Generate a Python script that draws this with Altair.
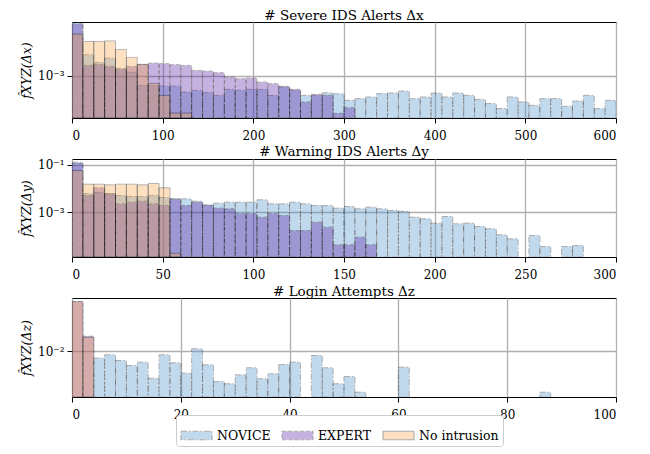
import altair as alt
import pandas as pd

SERIES = ["NOVICE", "EXPERT", "No intrusion"]
FILL = ["#418aca", "#5212a2", "#f8a23e"]
DASH = [[6, 2, 1.5, 2], [4, 2], [1, 0]]

# ---- Panel 1: severe IDS alerts (bin width 12) ----
SEV_BIN = 12
SEV_NOVICE = [6.12e-2, 5.01e-3, 2.77e-3, 3.86e-3, 1.75e-3, 1.29e-3, 4.75e-4, 4.75e-4, 4.50e-4, 4.50e-4,
              2.84e-4, 3.24e-4, 2.71e-4, 2.20e-4, 3.49e-4, 3.24e-4, 3.49e-4, 3.49e-4, 2.20e-4, 4.17e-4,
              3.24e-4, 2.20e-4, 2.20e-4, 2.67e-4, 2.47e-4, 1.50e-4, 1.71e-4, 1.94e-4, 2.51e-4, 2.63e-4,
              3.07e-4, 1.71e-4, 1.94e-4, 2.63e-4, 1.94e-4, 2.63e-4, 2.20e-4, 1.62e-4, 1.17e-4, 7.94e-5,
              1.94e-4, 1.32e-4, 1.02e-4, 1.71e-4, 1.71e-4, 9.48e-5, 1.42e-4, 2.20e-4, 7.94e-5, 1.50e-4]
SEV_EXPERT = [5.33e-2, 2.20e-3, 2.38e-3, 2.04e-3, 1.62e-3, 2.04e-3, 2.38e-3, 2.63e-3, 2.51e-3, 2.33e-3,
              2.20e-3, 1.50e-3, 1.42e-3, 1.26e-3, 8.98e-4, 7.94e-4, 8.32e-4, 6.12e-4, 5.41e-4, 4.40e-4,
              3.49e-4, 1.32e-4, 2.38e-4, 2.20e-4, 5.54e-5, 8.45e-5]
SEV_NOINT = [2.47e-2, 1.39e-2, 1.39e-2, 1.45e-2, 7.53e-3, 4.07e-3, 2.38e-3, 5.54e-4, 2.20e-4, 5.67e-5, 5.67e-5]
SEV_XTICKS = [0, 100, 200, 300, 400, 500, 600]
SEV_YDOMAIN = [3.86e-5, 6.21e-2]
SEV_YTICKS = [1e-3]

# ---- Panel 2: warning IDS alerts (bin width 6) ----
WARN_BIN = 6
WARN_NOVICE = [0.129, 6.15e-3, 6.78e-3, 6.15e-3, 5.07e-3, 4.60e-3, 4.60e-3, 5.07e-3, 4.17e-3, 3.67e-3,
               3.67e-3, 2.91e-3, 2.05e-3, 2.40e-3, 2.64e-3, 2.64e-3, 2.64e-3, 3.33e-3, 2.26e-3, 2.26e-3,
               2.64e-3, 2.26e-3, 1.92e-3, 1.92e-3, 1.48e-3, 1.74e-3, 1.39e-3, 1.63e-3, 1.39e-3, 1.18e-3,
               1.10e-3, 6.15e-4, 5.27e-4, 3.44e-4, 6.59e-4, 3.24e-4, 3.44e-4, 2.49e-4, 2.00e-4, 1.11e-4,
               7.55e-5, None, 1.04e-4, 3.57e-5, None, 3.57e-5, 3.94e-5]
WARN_EXPERT = [0.1135, 5.07e-3, 1.07e-2, 5.97e-3, 2.26e-3, 2.64e-3, 2.91e-3, 2.26e-3, 1.92e-3, 3.60e-3,
               1.92e-3, 2.64e-3, 1.92e-3, 1.48e-3, 1.39e-3, 8.55e-4, 8.55e-4, 6.15e-4, 8.55e-4, 7.26e-4,
               1.69e-4, 1.69e-4, 3.79e-4, 2.33e-4, 4.21e-5, 4.21e-5, 8.81e-5, 4.21e-5]
WARN_NOINT = [5.75e-2, 1.52e-2, 1.52e-2, 1.43e-2, 1.52e-2, 1.52e-2, 1.43e-2, 1.63e-2, 1.07e-2, 1.86e-5]
WARN_XTICKS = [0, 50, 100, 150, 200, 250, 300]
WARN_YDOMAIN = [1.29e-5, 0.176]
WARN_YTICKS = [1e-1, 1e-3]

# ---- Panel 3: login attempts (bin width 2) ----
LOGIN_BIN = 2
LOGIN_NOVICE = [None, None, 5.74e-3, 7.52e-3, 4.78e-3, 3.21e-3, 4.18e-3, 1.17e-3, 7.52e-3, 3.98e-3,
                1.74e-3, 1.21e-2, 3.40e-3, 9.02e-4, 7.52e-4, 1.53e-3, 2.68e-3, 1.12e-3, 1.66e-3, 3.48e-3,
                4.18e-3, None, 7.11e-3, 2.68e-3, 7.52e-4, 1.34e-3, 3.86e-4, None, None, None,
                2.81e-3, None, None, None, None, None, None, None, None, None,
                None, None, None, 3.86e-4]
LOGIN_EXPERT = [0.498, 3.29e-2]
LOGIN_NOINT = [0.518, 3.04e-2]
LOGIN_XTICKS = [0, 20, 40, 60, 80, 100]
LOGIN_YDOMAIN = [2.64e-4, 0.683]
LOGIN_YTICKS = [1e-2]

FONT = "DejaVu Serif"
LABEL_EXPR = ("'10' + replace(replace(replace(replace('' + round(log(datum.value) / LN10), "
              "'-', '\u207b'), '1', '\u00b9'), '2', '\u00b2'), '3', '\u00b3')")


def table(width, novice, expert, noint):
    rows = []
    for name, vals in zip(SERIES, [novice, expert, noint]):
        for i, v in enumerate(vals):
            if v is None:
                continue
            rows.append({"series": name, "x0": i * width, "x1": (i + 1) * width, "density": v})
    return pd.DataFrame(rows)


def legend():
    return alt.Legend(title=None, orient="none", legendX=104, legendY=393, direction="horizontal",
                      labelFont=FONT, labelFontSize=12.5, labelColor="black")


def panel(df, xmax, xticks, ydomain, yticks, title, ytitle, height):
    return alt.Chart(df).mark_bar(
        opacity=0.32, stroke="black", strokeWidth=1.0, clip=True
    ).encode(
        x=alt.X("x0:Q", scale=alt.Scale(domain=[0, xmax], nice=False, zero=False),
                axis=alt.Axis(values=xticks, format="d", title=None)),
        x2="x1:Q",
        y=alt.Y("density:Q",
                scale=alt.Scale(type="log", domain=ydomain, nice=False, clamp=True),
                axis=alt.Axis(values=yticks, labelExpr=LABEL_EXPR, title=ytitle)),
        y2=alt.Y2Datum(datum=1e-9),
        color=alt.Color("series:N", scale=alt.Scale(domain=SERIES, range=FILL), legend=legend()),
        strokeDash=alt.StrokeDash("series:N", scale=alt.Scale(domain=SERIES, range=DASH), legend=legend()),
    ).properties(
        width=544, height=height,
        title=alt.TitleParams(text=title, font=FONT, fontSize=13.5, fontWeight="normal",
                              color="black", offset=0, anchor="middle"),
    )


p1 = panel(table(SEV_BIN, SEV_NOVICE, SEV_EXPERT, SEV_NOINT), 600, SEV_XTICKS, SEV_YDOMAIN, SEV_YTICKS,
           "# Severe IDS Alerts \u0394x", "f\u0302XYZ(\u0394x)", 96)
p2 = panel(table(WARN_BIN, WARN_NOVICE, WARN_EXPERT, WARN_NOINT), 300, WARN_XTICKS, WARN_YDOMAIN, WARN_YTICKS,
           "# Warning IDS Alerts \u0394y", "f\u0302XYZ(\u0394y)", 98)
p3 = panel(table(LOGIN_BIN, LOGIN_NOVICE, LOGIN_EXPERT, LOGIN_NOINT), 100, LOGIN_XTICKS, LOGIN_YDOMAIN, LOGIN_YTICKS,
           "# Login Attempts \u0394z", "f\u0302XYZ(\u0394z)", 99)

chart = alt.vconcat(p1, p2, p3, spacing=41, bounds="flush").resolve_scale(
    x="independent", y="independent", color="shared", strokeDash="shared"
).configure(
    font=FONT
).configure_view(
    stroke="black", strokeWidth=1
).configure_axis(
    labelFont=FONT, labelFontSize=12, labelColor="black",
    tickColor="black", tickSize=5, tickWidth=1,
    gridColor="#b0b0b0", gridWidth=1.3, domain=False, zindex=1,
    titleFont=FONT, titleFontSize=12.5, titleFontStyle="italic", titleFontWeight="normal", titleColor="black",
).configure_axisX(
    labelPadding=7
).configure_axisY(
    labelPadding=3, titlePadding=4
).configure_legend(
    symbolType="M-1,-0.27H1V0.27H-1Z", symbolSize=961,
    symbolStrokeColor="black", symbolStrokeWidth=1.1,
    labelFont=FONT, labelFontSize=12.5, labelColor="black", labelOffset=4,
    columnPadding=8, padding=4, strokeColor="#cccccc", cornerRadius=3, fillColor="white",
).properties(
    padding={"left": 12, "top": 0, "right": 5, "bottom": 5}, background="white"
)

chart.save("out.html", embed_options={"renderer": "svg", "actions": False})
